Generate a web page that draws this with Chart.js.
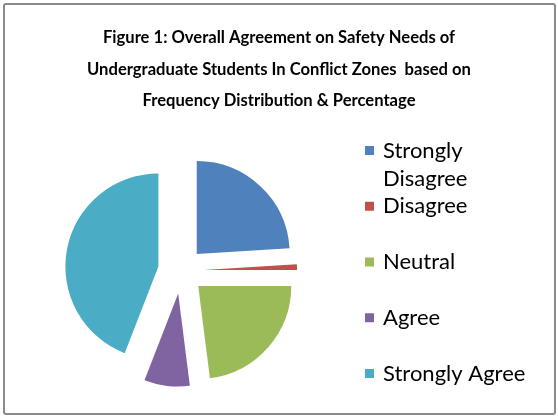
<!DOCTYPE html>
<html>
<head>
<meta charset="utf-8">
<script src="https://cdn.jsdelivr.net/npm/chart.js@4/dist/chart.umd.min.js"></script>
<style>
    html, body { margin: 0; padding: 0; background: #fff; }
    #wrap { position: relative; width: 558px; height: 417px; }
    #frame {
        position: absolute; left: 3px; top: 3px; width: 549px; height: 408px;
        border: 2px solid #8a8a8a; border-radius: 3px; pointer-events: none;
    }
</style>
</head>
<body>
<div id="wrap">
    <canvas id="chartAgreement" width="558" height="417"></canvas>
    <div id="frame"></div>
</div>
<script>
/* ========== Figure 1: agreement on safety needs ========== */

const titleLines = [
    'Figure 1: Overall Agreement on Safety Needs of',
    'Undergraduate Students In Conflict Zones  based on',
    'Frequency Distribution & Percentage',
];

const categories = ['Strongly Disagree', 'Disagree', 'Neutral', 'Agree', 'Strongly Agree'];
const percentages = [24.0, 1.0, 23.0, 7.9, 44.1];

const palette = {
    blue: '#4f81bd',
    red: '#c0504d',
    green: '#9bbb59',
    purple: '#8064a2',
    teal: '#4bacc6',
    text: '#000000',
};
const sliceColors = [palette.blue, palette.red, palette.green, palette.purple, palette.teal];

const EXPLODE = 23;        // distance each slice is pulled out
const LEGEND_WIDTH = 196;
const legendFont = '22px Lato, sans-serif';

// pull every slice out along its bisector, like an exploded Excel pie
const explodePlugin = {
    id: 'explode',
    afterDatasetUpdate(chart, args) {
        args.meta.data.forEach(arc => {
            const mid = (arc.startAngle + arc.endAngle) / 2;
            arc.x += Math.cos(mid) * EXPLODE;
            arc.y += Math.sin(mid) * EXPLODE;
        });
    },
};

function wrapWords(ctx, text, maxWidth) {
    const words = text.split(' ');
    const lines = [];
    let line = '';
    words.forEach(w => {
        const test = line ? line + ' ' + w : w;
        if (line && ctx.measureText(test).width > maxWidth) {
            lines.push(line);
            line = w;
        } else {
            line = test;
        }
    });
    lines.push(line);
    return lines;
}

// legend on the right, laid out as its own box so the title stays centred
const sideLegendPlugin = {
    id: 'sideLegend',
    beforeInit(chart) {
        const box = {
            position: 'right',
            weight: 1000,
            fullSize: false,
            options: {},
            isHorizontal: () => false,
            update(maxWidth, maxHeight) {
                box.width = LEGEND_WIDTH;
                box.height = maxHeight;
            },
            draw() {
                const ctx = chart.ctx;
                const labels = chart.data.labels;
                const colors = chart.data.datasets[0].backgroundColor;
                ctx.save();
                ctx.font = legendFont;
                ctx.textBaseline = 'middle';
                ctx.textAlign = 'left';
                labels.forEach((label, i) => {
                    const y = box.top + 24 + i * 55.75;
                    ctx.fillStyle = colors[i];
                    ctx.fillRect(box.left + 3, y - 4.5, 9, 9);
                    ctx.fillStyle = palette.text;
                    wrapWords(ctx, label, 150).forEach((line, j) => {
                        ctx.fillText(line, box.left + 21, y + j * 28);
                    });
                });
                ctx.restore();
            },
        };
        Chart.layouts.addBox(chart, box);
    },
};

document.addEventListener('DOMContentLoaded', () => {
    const ctx = document.getElementById('chartAgreement').getContext('2d');
    new Chart(ctx, {
        type: 'pie',
        data: {
            labels: categories,
            datasets: [{
                data: percentages,
                backgroundColor: sliceColors,
                borderWidth: 0,
                radius: 93,
            }],
        },
        options: {
            responsive: false,
            animation: false,
            layout: { padding: { top: 0, left: 0, right: 0, bottom: 2 } },
            plugins: {
                legend: { display: false },
                tooltip: { enabled: false },
                title: {
                    display: true,
                    text: titleLines,
                    color: palette.text,
                    font: { family: 'Lato, sans-serif', size: 16.6, weight: 'bold', lineHeight: 31.5 / 16.6 },
                    padding: { top: 22, bottom: 10 },
                },
            },
        },
        plugins: [explodePlugin, sideLegendPlugin],
    });
});
</script>
</body>
</html>
